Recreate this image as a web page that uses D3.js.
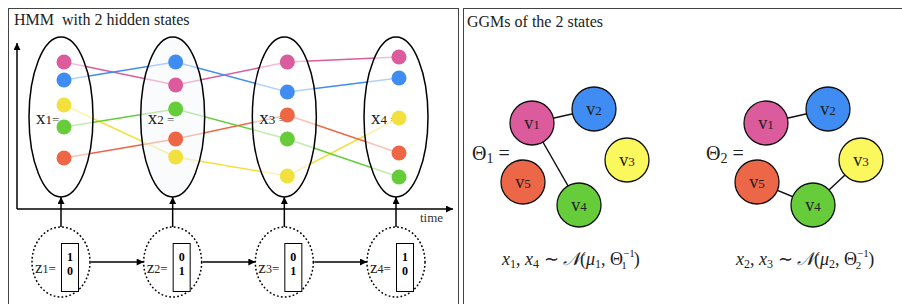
<!DOCTYPE html>
<html><head><meta charset="utf-8">
<script src="https://cdn.jsdelivr.net/npm/d3@7"></script>
<style>body{margin:0;background:#fff} svg{display:block}</style>
</head><body><svg id="c" width="902" height="304"></svg>
<script>
// ---------- data ----------
const times = ["1", "2", "3", "4"];
const seriesNames = ["pink", "blue", "yellow", "green", "orange"];
const pinkValues   = [147, 124, 147, 152];
const blueValues   = [129, 147, 117, 131];
const yellowValues = [104, 52, 33, 91];
const greenValues  = [82, 100, 70, 32];
const orangeValues = [51, 70, 94, 56];
const hiddenStates = [[1, 0], [0, 1], [0, 1], [1, 0]];
const nodeNames = ["1", "2", "3", "4", "5"];
const nodeLayoutX = [0, 62, 95, 47, -9];
const nodeLayoutY = [0, -14, 37, 82, 59];
const ggm1Edges = [[0, 1], [0, 3]];
const ggm2Edges = [[0, 1], [4, 3], [3, 2]];
const ggmStates = ["1", "2"];
const ggmObs = [["1", "4"], ["2", "3"]];

const colors = {pink: "#DB5B9C", blue: "#3F8CF3", yellow: "#F2E03F", green: "#66CC3A", orange: "#EE6645"};
const nodeColors = ["#DB5B9C", "#3F8CF3", "#FAF85C", "#66CC3A", "#EC6648"];
const valuesBy = {pink: pinkValues, blue: blueValues, yellow: yellowValues, green: greenValues, orange: orangeValues};

const svg = d3.select("#c");
const serif = "'Liberation Serif', 'Times New Roman', serif";

// markers
const defs = svg.append("defs");
defs.append("marker").attr("id", "ah").attr("viewBox", "0 0 10 10").attr("refX", 10).attr("refY", 5)
  .attr("markerWidth", 8).attr("markerHeight", 7).attr("markerUnits", "userSpaceOnUse").attr("orient", "auto")
  .append("path").attr("d", "M0,0L10,5L0,10Z").attr("fill", "#000");

// panels
svg.append("rect").attr("x", 8.5).attr("y", 8.5).attr("width", 450).attr("height", 310)
  .attr("fill", "none").attr("stroke", "#444").attr("stroke-width", 1);
svg.append("rect").attr("x", 463.5).attr("y", 8.5).attr("width", 450).attr("height", 310)
  .attr("fill", "none").attr("stroke", "#444").attr("stroke-width", 1);

svg.append("text").attr("x", 14).attr("y", 25).attr("font-family", serif).attr("font-size", 16)
  .attr("fill", "#222").attr("xml:space", "preserve").text("HMM  with 2 hidden states");
svg.append("text").attr("x", 467).attr("y", 27).attr("font-family", serif).attr("font-size", 16)
  .attr("fill", "#222").text("GGMs of the 2 states");

// ---------- left panel ----------
const xT = d3.scalePoint().domain(times).range([61, 396]);
const yV = d3.scaleLinear().domain([0, 162]).range([209, 47]);
const dotOff = 3;

// axes
svg.append("line").attr("x1", 17).attr("y1", yV(0)).attr("x2", 17).attr("y2", yV(166))
  .attr("stroke", "#000").attr("stroke-width", 1.5).attr("marker-end", "url(#ah)");
svg.append("line").attr("x1", 17).attr("y1", yV(0)).attr("x2", 453).attr("y2", yV(0))
  .attr("stroke", "#000").attr("stroke-width", 1.5).attr("marker-end", "url(#ah)");
svg.append("text").attr("x", 420).attr("y", 222).attr("font-family", serif).attr("font-size", 13)
  .attr("fill", "#333").text("time");

// lines
const line = d3.line().x((d, i) => xT(times[i]) + dotOff).y(d => yV(d));
seriesNames.forEach(s => {
  svg.append("path").attr("d", line(valuesBy[s])).attr("fill", "none")
    .attr("stroke", colors[s]).attr("stroke-width", 1.5);
});

// ellipses over lines
svg.selectAll(".ell").data(times).join("ellipse")
  .attr("cx", d => xT(d)).attr("cy", 117).attr("rx", 32).attr("ry", 80)
  .attr("fill", (d, i) => i === 1 ? "#f7f8fc" : "#fff").attr("fill-opacity", 0.6)
  .attr("stroke", "#000").attr("stroke-width", 1.5);

// x labels
times.forEach((t, i) => {
  const tx = svg.append("text").attr("x", xT(t) - 25).attr("y", 124).attr("font-family", serif)
    .attr("font-size", 19).attr("fill", "#222");
  tx.append("tspan").text("x");
  tx.append("tspan").attr("font-size", 13).text(t);
  tx.append("tspan").attr("font-size", 13).attr("fill", "#555").text(i === 0 ? "=" : " =");
});

// dots
seriesNames.forEach(s => {
  svg.selectAll(null).data(valuesBy[s]).join("circle")
    .attr("cx", (d, i) => xT(times[i]) + dotOff).attr("cy", d => yV(d)).attr("r", 7.5)
    .attr("fill", colors[s]);
});

// hidden state circles
const zy = 262;
times.forEach((t, i) => {
  const cx = xT(t);
  svg.append("ellipse").attr("cx", cx).attr("cy", zy).attr("rx", 29).attr("ry", 35)
    .attr("fill", "none").attr("stroke", "#000").attr("stroke-width", 1.5).attr("stroke-dasharray", "1.8,2.2");
  // up arrow
  svg.append("line").attr("x1", cx).attr("y1", zy - 35).attr("x2", cx).attr("y2", 197)
    .attr("stroke", "#000").attr("stroke-width", 1.5).attr("marker-end", "url(#ah)");
  const tx = svg.append("text").attr("x", cx - 26).attr("y", 273).attr("font-family", serif)
    .attr("font-size", 17).attr("fill", "#222");
  tx.append("tspan").text("z");
  tx.append("tspan").attr("font-size", 12).text(t);
  tx.append("tspan").attr("font-size", 13).text("=");
  svg.append("rect").attr("x", cx + 0.5).attr("y", 243.5).attr("width", 17).attr("height", 48)
    .attr("fill", "#fff").attr("stroke", "#000").attr("stroke-width", 1);
  hiddenStates[i].forEach((v, j) => {
    svg.append("text").attr("x", cx + 9).attr("y", 261 + j * 14).attr("text-anchor", "middle")
      .attr("font-family", serif).attr("font-weight", "bold").attr("font-size", 12).text(v);
  });
  if (i < times.length - 1) {
    svg.append("line").attr("x1", cx + 30).attr("y1", zy).attr("x2", xT(times[i + 1]) - 29).attr("y2", zy)
      .attr("stroke", "#000").attr("stroke-width", 1.5).attr("marker-end", "url(#ah)");
  }
});

// ---------- right panel ----------
const gx = d3.scaleLinear().domain([0, 1]).range([532, 766]);
const layX = d3.scaleLinear().domain([0, 1]).range([0, 1]);
const layY = d3.scaleLinear().domain([0, 1]).range([123, 124]);

[ggm1Edges, ggm2Edges].forEach((edges, k) => {
  const ox = gx(k);
  const px = i => ox + layX(nodeLayoutX[i]);
  const py = i => layY(0) + nodeLayoutY[i];
  edges.forEach(e => {
    svg.append("line").attr("x1", px(e[0])).attr("y1", py(e[0])).attr("x2", px(e[1])).attr("y2", py(e[1]))
      .attr("stroke", "#111").attr("stroke-width", 1.5);
  });
  nodeNames.forEach((n, i) => {
    svg.append("circle").attr("cx", px(i)).attr("cy", py(i)).attr("r", 22)
      .attr("fill", nodeColors[i]).attr("stroke", "#111").attr("stroke-width", 1.3);
    const tx = svg.append("text").attr("x", px(i)).attr("y", py(i) + 6).attr("text-anchor", "middle")
      .attr("font-family", serif).attr("font-size", 18).attr("fill", "#222");
    tx.append("tspan").text("v");
    tx.append("tspan").attr("font-size", 13).text(n);
  });
  // Theta label
  const th = svg.append("text").attr("x", ox - 60).attr("y", 160).attr("font-family", serif)
    .attr("font-size", 20).attr("fill", "#222");
  th.append("tspan").text("Θ");
  th.append("tspan").attr("font-size", 14).attr("dy", 3).text(ggmStates[k]);
  th.append("tspan").attr("dy", -3).text(" =");
  // formula
  const f = svg.append("text").attr("x", ox - 30).attr("y", 265).attr("font-family", serif)
    .attr("font-size", 18).attr("fill", "#222");
  f.append("tspan").attr("font-style", "italic").text("x");
  f.append("tspan").attr("font-size", 12).attr("dy", 3).text(ggmObs[k][0]);
  f.append("tspan").attr("dy", -3).text(", ");
  f.append("tspan").attr("font-style", "italic").text("x");
  f.append("tspan").attr("font-size", 12).attr("dy", 3).text(ggmObs[k][1]);
  f.append("tspan").attr("dy", -3).text(" ∼ ");
  f.append("tspan").attr("font-style", "italic").text("𝒩");
  f.append("tspan").text("(");
  f.append("tspan").attr("font-style", "italic").text("μ");
  f.append("tspan").attr("font-size", 12).attr("dy", 3).text(ggmStates[k]);
  f.append("tspan").attr("dy", -3).text(", Θ");
  f.append("tspan").attr("font-size", 11).attr("dy", -8).text("−1");
  f.append("tspan").attr("font-size", 11).attr("dx", -13).attr("dy", 12).text(ggmStates[k]);
  f.append("tspan").attr("dx", 7).attr("dy", -4).text(")");
});
</script></body></html>
